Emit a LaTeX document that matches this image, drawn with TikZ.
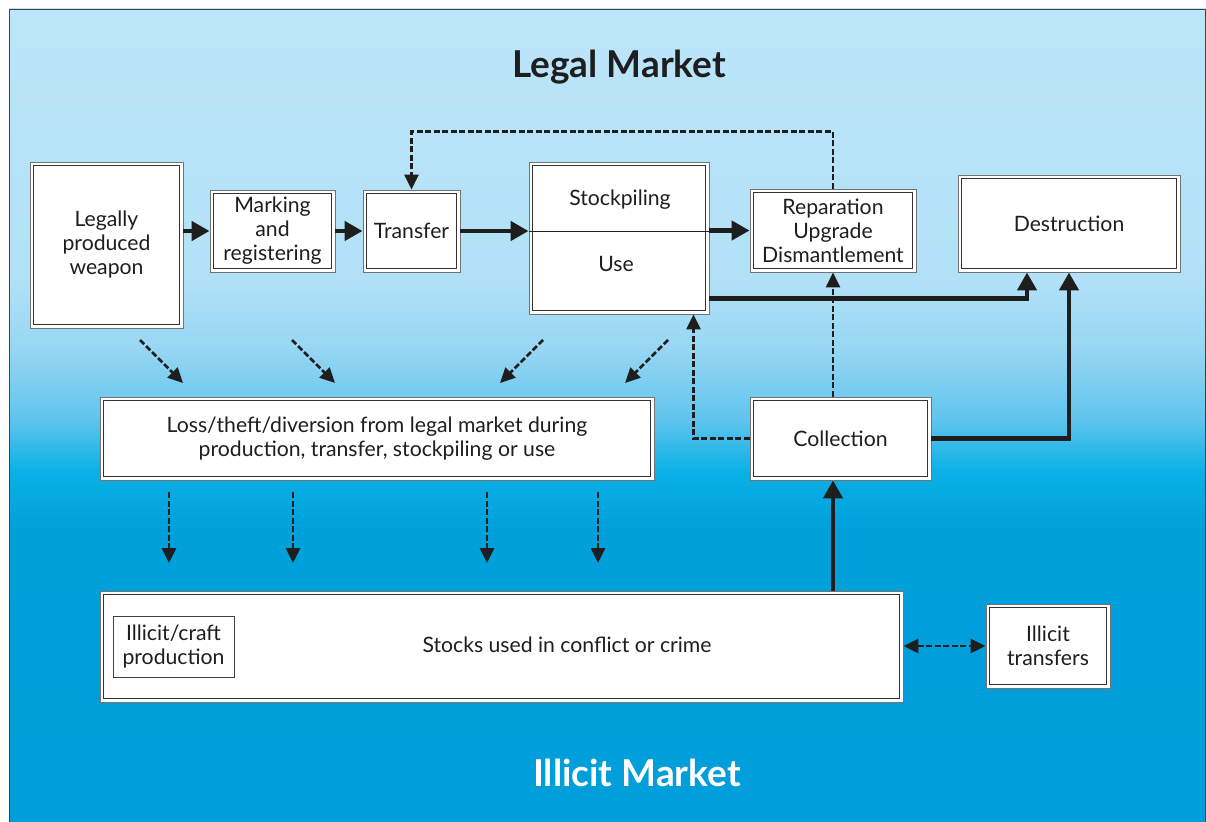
\documentclass[tikz,border=0pt]{standalone}
\usepackage{fontspec}
\setmainfont{Lato}
\usetikzlibrary{arrows.meta,calc}
\definecolor{bgA}{RGB}{188,229,249}
\definecolor{bgB}{RGB}{178,225,247}
\definecolor{bgC}{RGB}{150,214,243}
\definecolor{bgD}{RGB}{95,196,237}
\definecolor{bgE}{RGB}{10,176,230}
\definecolor{bgF}{RGB}{0,160,219}
\definecolor{bgG}{RGB}{0,158,218}
\definecolor{ink}{RGB}{30,30,30}
\tikzset{
  dbox/.style={draw=black!55, line width=0.9pt, fill=white, inner sep=0pt,
    text=ink, align=center, font=\fontsize{21.2}{24}\selectfont,
    path picture={\draw[line width=1.2pt, draw=black!80]
      ([shift={(3.5pt,-3.5pt)}]path picture bounding box.north west) rectangle
      ([shift={(-3.5pt,3.5pt)}]path picture bounding box.south east);}},
  sbox/.style={draw=black!75, line width=1pt, fill=white, inner sep=0pt,
    text=ink, align=center, font=\fontsize{21.2}{24}\selectfont},
  lbl/.style={text=ink, align=center, inner sep=0pt, font=\fontsize{21.2}{24}\selectfont},
  flow/.style={draw=ink, line width=4.5pt, -{Triangle[length=18pt 0 0,width=19pt 0 0]}},
  dflow/.style={draw=ink, line width=2.8pt, dash pattern=on 6pt off 2.5pt,
    -{Triangle[length=15pt 0 0,width=14pt 0 0]}},
  dflow2/.style={draw=ink, line width=2.8pt, dash pattern=on 6pt off 2.5pt,
    {Triangle[length=15pt 0 0,width=14pt 0 0]}-{Triangle[length=15pt 0 0,width=14pt 0 0]}},
  title/.style={inner sep=0pt, font=\fontsize{37}{40}\selectfont\bfseries}
}
\begin{document}
\begin{tikzpicture}[x=1pt,y=-1pt]
\useasboundingbox (0,0) rectangle (1206,821);
% background
\fill[white] (0,0) rectangle (1206,821);
\fill[top color=bgA, bottom color=bgB] (9,9) rectangle (1206,280.5);
\fill[top color=bgB, bottom color=bgC] (9,280) rectangle (1206,350.5);
\fill[top color=bgC, bottom color=bgD] (9,350) rectangle (1206,420.5);
\fill[top color=bgD, bottom color=bgE] (9,420) rectangle (1206,471.5);
\fill[top color=bgE, bottom color=bgF] (9,471) rectangle (1206,530.5);
\fill[top color=bgF, bottom color=bgG] (9,530) rectangle (1206,822);
\draw[black!75, line width=0.9pt] (9,830) -- (9,9) -- (1205,9) -- (1205,830);

% titles
\node[title, text=ink] (legaltitle) at (619,67) {Legal Market};
\node[title, text=white] (illicittitle) at (637,773) {Illicit Market};

% boxes
\node[dbox, minimum width=153pt, minimum height=166pt] (legal) at (106.5,245) {Legally\\produced\\weapon};
\node[dbox, minimum width=125pt, minimum height=82pt] (mark) at (272.5,231) {Marking\\and\\registering};
\node[dbox, minimum width=97pt, minimum height=82pt] (transfer) at (411.5,231) {Transfer};
\node[dbox, minimum width=180pt, minimum height=152pt] (stock) at (619,238) {};
\node[lbl] (stockpiling) at (620,200) {Stockpiling};
\node[lbl] (use) at (616,264) {Use};
\node[dbox, minimum width=166pt, minimum height=83pt] (repar) at (833,230.5) {Reparation\\Upgrade\\Dismantlement};
\node[dbox, minimum width=222pt, minimum height=97pt] (destr) at (1069,223.5) {Destruction};
\node[dbox, minimum width=554pt, minimum height=83pt] (loss) at (377,438.5) {Loss/theft/diversion from legal market during\\production, transfer, stockpiling or use};
\node[dbox, minimum width=181pt, minimum height=83pt] (coll) at (840.5,438.5) {Collection};
\node[dbox, minimum width=803pt, minimum height=111pt] (stocks) at (501.5,646.5) {};
\node[lbl] (stockstxt) at (567,645) {Stocks used in conflict or crime};
\node[sbox, minimum width=121pt, minimum height=61pt] (craft) at (173.5,646.5) {Illicit/craft\\production};
\node[dbox, minimum width=124pt, minimum height=84pt] (itrans) at (1048,646) {Illicit\\transfers};

% divider in stockpiling/use box
\draw[ink, line width=0.8pt] (transfer.east -| stock.west) -- (transfer.east -| stock.east);

% main flow
\draw[flow] (legal.east |- mark.west) -- (mark.west);
\draw[flow] (mark.east) -- (transfer.west);
\draw[flow] (transfer.east) -- (transfer.east -| stock.west);
\draw[flow] (stock.east |- repar.west) -- (repar.west);

% feedback from reparation to transfer
\draw[dflow] (repar.north) -- ++(0,-57) -| (transfer.north);

% to destruction
\draw[flow] ([yshift=16pt]stock.south east) -| ([xshift=-42pt]destr.south);
\draw[flow] (coll.east) -| (destr.south);

% collection links
\draw[dflow] (coll.west) -| ([xshift=-16pt]stock.south east);
\draw[dflow] (repar.south |- coll.north) -- (repar.south);
\draw[flow] (repar.south |- stocks.north) -- (repar.south |- coll.south);

% illicit transfers
\draw[dflow2] (stocks.east |- itrans.west) -- (itrans.west);

% diagonal leak arrows
\coordinate (d1s) at (140,340); \coordinate (d1e) at (183,383);
\coordinate (d2s) at (292,340); \coordinate (d2e) at (335,383);
\coordinate (d3s) at (543,340); \coordinate (d3e) at (500,383);
\coordinate (d4s) at (668,340); \coordinate (d4e) at (625,383);
\draw[dflow] (d1s) -- (d1e);
\draw[dflow] (d2s) -- (d2e);
\draw[dflow] (d3s) -- (d3e);
\draw[dflow] (d4s) -- (d4e);

% downward arrows
\coordinate (v1s) at (169,492); \coordinate (v1e) at (169,563);
\coordinate (v2s) at (293,492); \coordinate (v2e) at (293,563);
\coordinate (v3s) at (487,492); \coordinate (v3e) at (487,563);
\coordinate (v4s) at (598,492); \coordinate (v4e) at (598,563);
\draw[dflow] (v1s) -- (v1e);
\draw[dflow] (v2s) -- (v2e);
\draw[dflow] (v3s) -- (v3e);
\draw[dflow] (v4s) -- (v4e);
\end{tikzpicture}
\end{document}
